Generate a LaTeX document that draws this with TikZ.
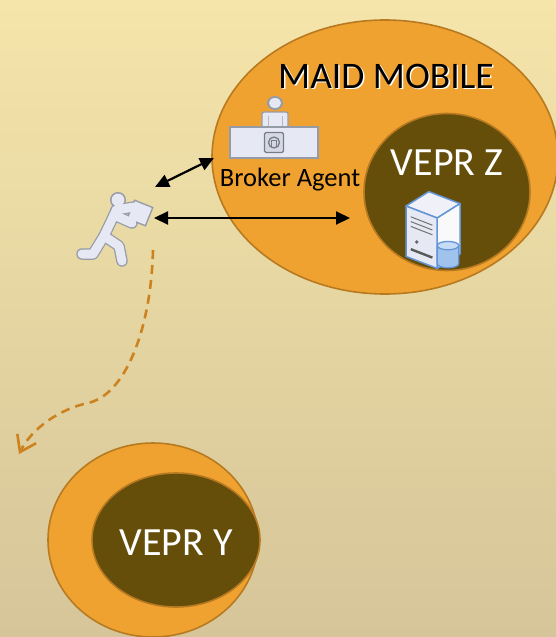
\documentclass[tikz,border=0pt]{standalone}
\usepackage{fontspec}
\setmainfont{Carlito}
\usetikzlibrary{shapes.geometric,arrows.meta}

\definecolor{bgtop}{RGB}{245,229,170}
\definecolor{bgbottom}{RGB}{213,197,153}
\definecolor{zonefill}{RGB}{240,162,48}
\definecolor{zoneline}{RGB}{184,122,32}
\definecolor{corefill}{RGB}{101,77,10}
\definecolor{pathline}{RGB}{204,130,30}
\definecolor{iconfill}{RGB}{230,232,244}
\definecolor{iconline}{RGB}{150,155,168}
\definecolor{srvblue}{RGB}{100,150,215}
\definecolor{srvcyl}{RGB}{160,195,238}

\tikzset{
  zone/.style={ellipse, draw=zoneline, line width=1.6pt, fill=zonefill, inner sep=0pt},
  core/.style={ellipse, draw=zoneline, line width=1.6pt, fill=corefill, inner sep=0pt},
  corelabel/.style={text=white, font=\fontsize{40}{44}\selectfont, inner sep=0pt},
  titlelabel/.style={font=\fontsize{37.5}{40}\selectfont, inner sep=0pt},
  agentlabel/.style={text=black, font=\fontsize{26.5}{30}\selectfont, inner sep=0pt},
  link/.style={line width=2.2pt, {Triangle[length=14pt,width=13pt]}-{Triangle[length=14pt,width=13pt]}},
  move/.style={line width=2.6pt, pathline, dash pattern=on 9pt off 6pt, -{Straight Barb[length=15pt,width=21pt,line width=2.6pt]}},
  limbout/.style={line width=11.5pt, iconline, line cap=round, line join=round},
  limbin/.style={line width=9pt, iconfill, line cap=round, line join=round},
  anchorpt/.style={inner sep=0pt, minimum size=0pt}
}

\begin{document}
\begin{tikzpicture}[x=1pt, y=-1pt]
  % page and background
  \useasboundingbox (0,0) rectangle (556,637);
  \shade[top color=bgtop, bottom color=bgbottom] (0,0) rectangle (556,637);

  % MAID MOBILE zone with the VEPR Z core
  \node[zone, minimum width=346pt, minimum height=274pt] (maid) at (385,157) {};
  \node[core, minimum width=166pt, minimum height=157pt] (veprz) at (447,192) {};

  % VEPR Y zone and core
  \node[zone, minimum width=210pt, minimum height=194pt] (zoney) at (153,540) {};
  \node[core, minimum width=168pt, minimum height=134pt] (vepry) at (176,540) {};

  % labels
  \node[titlelabel, text=white] at (387.4,77.4) {MAID MOBILE};
  \node[titlelabel, text=black] (maidlabel) at (386,76) {MAID MOBILE};
  \node[corelabel] (veprzlabel) at (447,163) {VEPR Z};
  \node[corelabel] (veprylabel) at (176,543) {VEPR Y};
  \node[agentlabel] (agentlabel) at (290,180) {Broker Agent};

  % broker agent: person behind a desk
  \fill[iconline] (275,103) ellipse (8pt and 7pt);
  \fill[iconfill] (275,103) ellipse (6pt and 5pt);
  \filldraw[fill=iconfill, draw=iconline, line width=1.2pt, rounded corners=2pt] (262,128) -- (262,112) -- (288,112) -- (288,128);
  \draw[iconline!70, line width=0.8pt] (268,116) -- (268,127) (282,116) -- (282,127);
  \node[draw=iconline, line width=1.4pt, fill=iconfill, minimum width=88pt, minimum height=31pt, inner sep=0pt] (desk) at (274,142.5) {};
  \node[draw=iconline!80!black, line width=1.2pt, fill=iconfill!80!iconline, minimum width=19pt, minimum height=20pt, inner sep=0pt, rounded corners=1.5pt] (deskscreen) at (274,142.5) {};
  \draw[iconline!80!black, line width=1.3pt] (274,142.5) circle (5.5pt);
  \draw[iconline!80!black, line width=1pt] (271.5,146.5) -- (271.5,140) -- (276.5,140) -- (276.5,146.5);

  % server inside VEPR Z
  \begin{scope}[shift={(436,230)}, scale=1.2, shift={(-436,-230)}]
  \filldraw[fill=iconfill!60!white, draw=srvblue, line width=1.5pt, line join=round] (411,210) -- (430,198) -- (456,208) -- (437,220) -- cycle;
  \filldraw[fill=iconfill!85!black!10!white, draw=srvblue, line width=1.5pt, line join=round] (437,220) -- (456,208) -- (456,250) -- (437,262) -- cycle;
  \filldraw[fill=iconfill, draw=srvblue, line width=1.5pt, line join=round] (411,210) -- (437,220) -- (437,262) -- (411,252) -- cycle;
  \draw[black!55, line width=1pt] (415,219) -- (433,226) (415,223) -- (433,230) (415,227) -- (433,234);
  \fill[black!60] (420,240) circle (1.6pt);
  \draw[black!65, line width=2.4pt] (415,246) -- (433,253);
  \filldraw[fill=srvcyl, draw=srvblue, line width=1.3pt] (437,243) -- (437,258) arc[start angle=180, end angle=360, x radius=9pt, y radius=3.5pt] -- (455,243);
  \filldraw[fill=srvcyl!60!white, draw=srvblue, line width=1.3pt] (446,243) ellipse (9pt and 3.5pt);
  \end{scope}
  \node[anchorpt] (server) at (436,230) {};

  % running user carrying a document
  \begin{scope}
    \draw[limbout] (116,211) -- (104,236) -- (93,254) -- (82,254);
    \draw[limbout] (104,236) -- (119,246) -- (122,261);
    \draw[limbout] (114,215) -- (132,223);
    \draw[limbout] (116,210) -- (134,207);
    \fill[iconline, rotate around={-22:(140,213)}] (129.5,202.5) rectangle (150.5,223.5);
    \fill[iconline] (118,200) circle (8pt);
    \draw[limbin] (116,211) -- (104,236) -- (93,254) -- (82,254);
    \draw[limbin] (104,236) -- (119,246) -- (122,261);
    \draw[limbin] (114,215) -- (132,223);
    \draw[limbin] (116,210) -- (134,207);
    \fill[iconfill, rotate around={-22:(140,213)}] (131,204) rectangle (149,222);
    \fill[iconfill] (118,200) circle (6.4pt);
  \end{scope}
  \node[anchorpt] (runner) at (110,230) {};

  % connection ends
  \coordinate (toagentA) at (155,187);
  \coordinate (toagentB) at (214,158);
  \coordinate (tocoreA) at (154,218);
  \coordinate (tocoreB) at (350,218);
  \coordinate (movestart) at (153,250);
  \coordinate (movebend) at (88,403);
  \coordinate (moveend) at (19,454);

  % user connections
  \draw[link] (toagentA) -- (toagentB);
  \draw[link] (tocoreA) -- (tocoreB);

  % user moving towards VEPR Y
  \draw[move] (movestart) .. controls (151,330) and (125,395) .. (movebend)
              .. controls (60,409) and (32,428) .. (moveend);
\end{tikzpicture}
\end{document}
